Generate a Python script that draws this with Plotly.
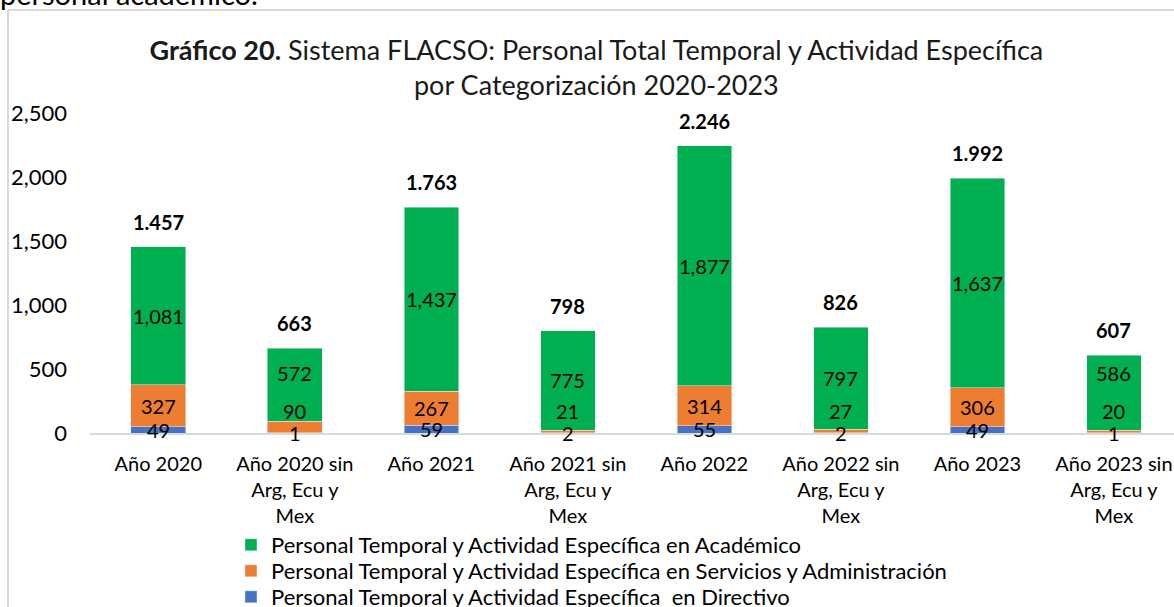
import plotly.graph_objects as go

categories = ["Año 2020", "Año 2020 sin<br>Arg, Ecu y<br>Mex", "Año 2021", "Año 2021 sin<br>Arg, Ecu y<br>Mex",
              "Año 2022", "Año 2022 sin<br>Arg, Ecu y<br>Mex", "Año 2023", "Año 2023 sin<br>Arg, Ecu y<br>Mex"]
directivo = [49, 1, 59, 2, 55, 2, 49, 1]
servicios = [327, 90, 267, 21, 314, 27, 306, 20]
academico = [1081, 572, 1437, 775, 1877, 797, 1637, 586]
totals = [1457, 663, 1763, 798, 2246, 826, 1992, 607]

name_dir = "Personal Temporal y Actividad Específica  en Directivo"
name_serv = "Personal Temporal y Actividad Específica en Servicios y Administración"
name_acad = "Personal Temporal y Actividad Específica en Académico"

C_GREEN = "#00B050"
C_ORANGE = "#ED7D31"
C_BLUE = "#4472C4"
FONT = "Lato"

Y_MAX = 2500
PLOT_H = 320  # px height of plot area
PX_PER_UNIT = PLOT_H / Y_MAX

fig = go.Figure()
fig.add_trace(go.Bar(x=categories, y=directivo, name=name_dir, marker_color=C_BLUE, legend="legend3"))
fig.add_trace(go.Bar(x=categories, y=servicios, name=name_serv, marker_color=C_ORANGE, legend="legend2"))
fig.add_trace(go.Bar(x=categories, y=academico, name=name_acad, marker_color=C_GREEN, legend="legend"))

ann = []
lab_font = dict(family=FONT, size=20, color="black")
for i, cat in enumerate(categories):
    d, s, a = directivo[i], servicios[i], academico[i]
    ann.append(dict(x=cat, y=d / 2, text=f"{d:,}", showarrow=False, font=lab_font, yanchor="middle"))
    small = s < 150
    if not small:
        ann.append(dict(x=cat, y=d + s / 2, text=f"{s:,}", showarrow=False, font=lab_font, yanchor="middle"))
        serv_px = (d + s / 2) * PX_PER_UNIT
    else:
        ann.append(dict(x=cat, y=d, text=f"{s:,}", showarrow=False, font=lab_font, yanchor="bottom", yshift=8))
        serv_px = d * PX_PER_UNIT + 8 + 12
    acad_px = (d + s + a / 2) * PX_PER_UNIT
    shift = 0
    if acad_px - serv_px < 30:
        shift = serv_px + 40 - acad_px
    ann.append(dict(x=cat, y=d + s + a / 2, text=f"{a:,}", showarrow=False, font=lab_font, yanchor="middle",
                    yshift=shift))
    ann.append(dict(x=cat, y=totals[i], text="<b>" + f"{totals[i]:,}".replace(",", ".") + "</b>", showarrow=False,
                    font=dict(family=FONT, size=20, color="black"), yanchor="middle", yshift=25))

# cropped document text at the top
ann.append(dict(xref="paper", yref="paper", x=-92 / 1084, y=(433 + 7) / 320, xanchor="left", yanchor="middle",
                text="personal académico.", showarrow=False, font=dict(family=FONT, size=29, color="black")))


def legend_at(yc):
    return dict(orientation="v", x=(231 - 90) / 1084, xanchor="left", y=(433 - yc) / 320, yanchor="middle",
                font=dict(family=FONT, size=22, color="black"), bgcolor="rgba(0,0,0,0)")


fig.update_layout(
    width=1174, height=607,
    margin=dict(l=90, r=0, t=113, b=174, autoexpand=False),
    paper_bgcolor="white", plot_bgcolor="white",
    barmode="stack", bargap=0.6,
    showlegend=True,
    font=dict(family=FONT, size=20, color="black"),
    title=dict(text="<b>Gráfico 20.</b> Sistema FLACSO: Personal Total Temporal y Actividad Específica<br>por Categorización 2020-2023",
               x=0.508, xref="container", xanchor="center", y=1 - 60 / 607, yref="container", yanchor="middle",
               font=dict(family=FONT, size=27, color="#1a1a1a")),
    xaxis=dict(range=[-0.5, 7.44], showline=True, linecolor="#D9D9D9", linewidth=1.5, showgrid=False,
               automargin=False, ticks="", tickfont=dict(family=FONT, size=20, color="black"), ticklabelstandoff=12),
    yaxis=dict(range=[0, Y_MAX], tickvals=[0, 500, 1000, 1500, 2000, 2500], tickformat=",", showgrid=False,
               automargin=False, zeroline=False, showline=False, ticks="", ticklabelstandoff=22,
               tickfont=dict(family=FONT, size=22, color="black")),
    legend=legend_at(545),
    legend2=legend_at(571),
    legend3=legend_at(597),
    annotations=ann,
    shapes=[
        dict(type="line", xref="paper", yref="paper", x0=-82 / 1084, x1=1.2, y0=423 / 320, y1=423 / 320,
             line=dict(color="#D9D9D9", width=2)),
        dict(type="line", xref="paper", yref="paper", x0=-82 / 1084, x1=-82 / 1084, y0=423 / 320, y1=-0.7,
             line=dict(color="#D9D9D9", width=2)),
    ],
)

fig.write_html("out.html", config={"displayModeBar": False},
               post_script="document.body.style.margin='0';document.body.style.overflow='hidden';")
